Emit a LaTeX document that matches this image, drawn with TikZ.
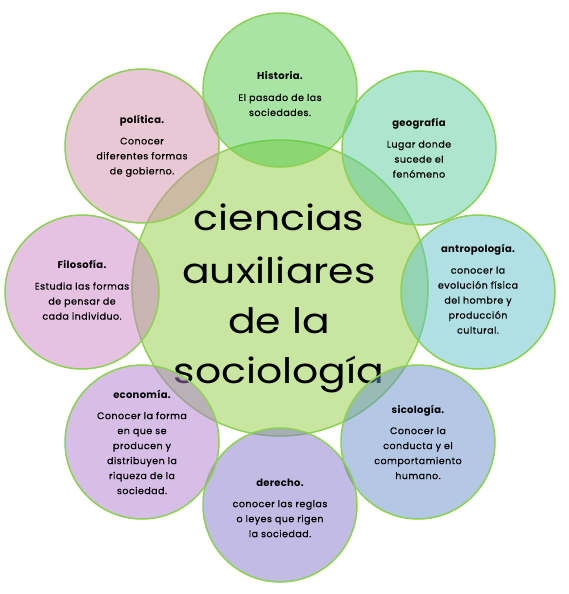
\documentclass[tikz,border=0pt]{standalone}
\usepackage{graphicx}
\usepackage{fontspec}
\setmainfont{Poppins}
\newfontfamily\smallfont{Poppins}[LetterSpace=5,FakeBold=0.6]
\newfontfamily\titlefont{Poppins}[LetterSpace=3]
\definecolor{ringgreen}{RGB}{140,208,84}
\definecolor{centerfill}{RGB}{200,230,160}
\definecolor{cHist}{RGB}{81,201,73}
\definecolor{cGeo}{RGB}{93,203,157}
\definecolor{cAntro}{RGB}{97,193,201}
\definecolor{cSico}{RGB}{105,145,205}
\definecolor{cDer}{RGB}{133,121,201}
\definecolor{cEco}{RGB}{173,125,205}
\definecolor{cFilo}{RGB}{203,133,197}
\definecolor{cPol}{RGB}{209,145,169}
\newcommand{\ttl}[1]{{\titlefont\fontsize{10}{15}\selectfont\bfseries #1}}
\newcommand{\wide}[1]{\scalebox{1.17}[1]{#1}}
\begin{document}
\begin{tikzpicture}[x=1pt,y=-1pt,
  ring/.style={circle, minimum size=154pt, inner sep=0pt, draw=ringgreen, line width=1.5pt, fill opacity=0.5},
  lbl/.style={align=center, font=\smallfont\fontsize{9.5}{15}\selectfont, text=black, inner sep=0pt},
  big/.style={anchor=base, font=\fontsize{35}{51}\selectfont, text=black, inner sep=0pt}]
\useasboundingbox (0,0) rectangle (568,594);
\node[circle, minimum size=296pt, inner sep=0pt, fill=centerfill, draw=ringgreen, line width=1.5pt] (main) at (280,288) {};
\node[big] (t1) at (279,230) {\wide{ciencias}};
\node[big] (t2) at (279,283) {\wide{auxiliares}};
\node[big] (t3) at (279,333) {\wide{de la}};
\node[big] (t4) at (279,383) {\wide{sociología}};
\node[ring, fill=cHist] (hist) at (280,90) {};
\node[ring, fill=cGeo] (geo) at (419,148) {};
\node[ring, fill=cAntro] (antro) at (478,292) {};
\node[ring, fill=cSico] (sico) at (418,442) {};
\node[ring, fill=cDer] (der) at (280,505) {};
\node[ring, fill=cEco] (eco) at (142,442) {};
\node[ring, fill=cFilo] (filo) at (82,292) {};
\node[ring, fill=cPol] (pol) at (142,146) {};
\node[lbl] (lhist) at ([yshift=-4pt]hist.center) {\ttl{Historia.}\\[6pt]El pasado de las\\sociedades.};
\node[lbl] (lgeo) at (geo.center) {\ttl{geografía}\\[6pt]Lugar donde\\sucede el\\fenómeno};
\node[lbl] (lantro) at ([yshift=3pt]antro.center) {\ttl{antropología.}\\[6pt]conocer la\\evolución física\\del hombre y\\producción\\cultural.};
\node[lbl] (lsico) at (sico.center) {\ttl{sicología.}\\[6pt]Conocer la\\conducta y el\\comportamiento\\humano.};
\node[lbl] (lder) at ([yshift=-3pt]der.center) {\ttl{derecho.}\\[6pt]conocer las reglas\\o leyes que rigen\\la sociedad.};
\node[lbl] (leco) at (eco.center) {\ttl{economía.}\\[6pt]Conocer la forma\\en que se\\producen y\\distribuyen la\\riqueza de la\\sociedad.};
\node[lbl] (lfilo) at ([yshift=2pt]filo.center) {\ttl{Filosofía.}\\[6pt]Estudia las formas\\de pensar de\\cada individuo.};
\node[lbl] (lpol) at (pol.center) {\ttl{política.}\\[6pt]Conocer\\diferentes formas\\de gobierno.};
\end{tikzpicture}
\end{document}
